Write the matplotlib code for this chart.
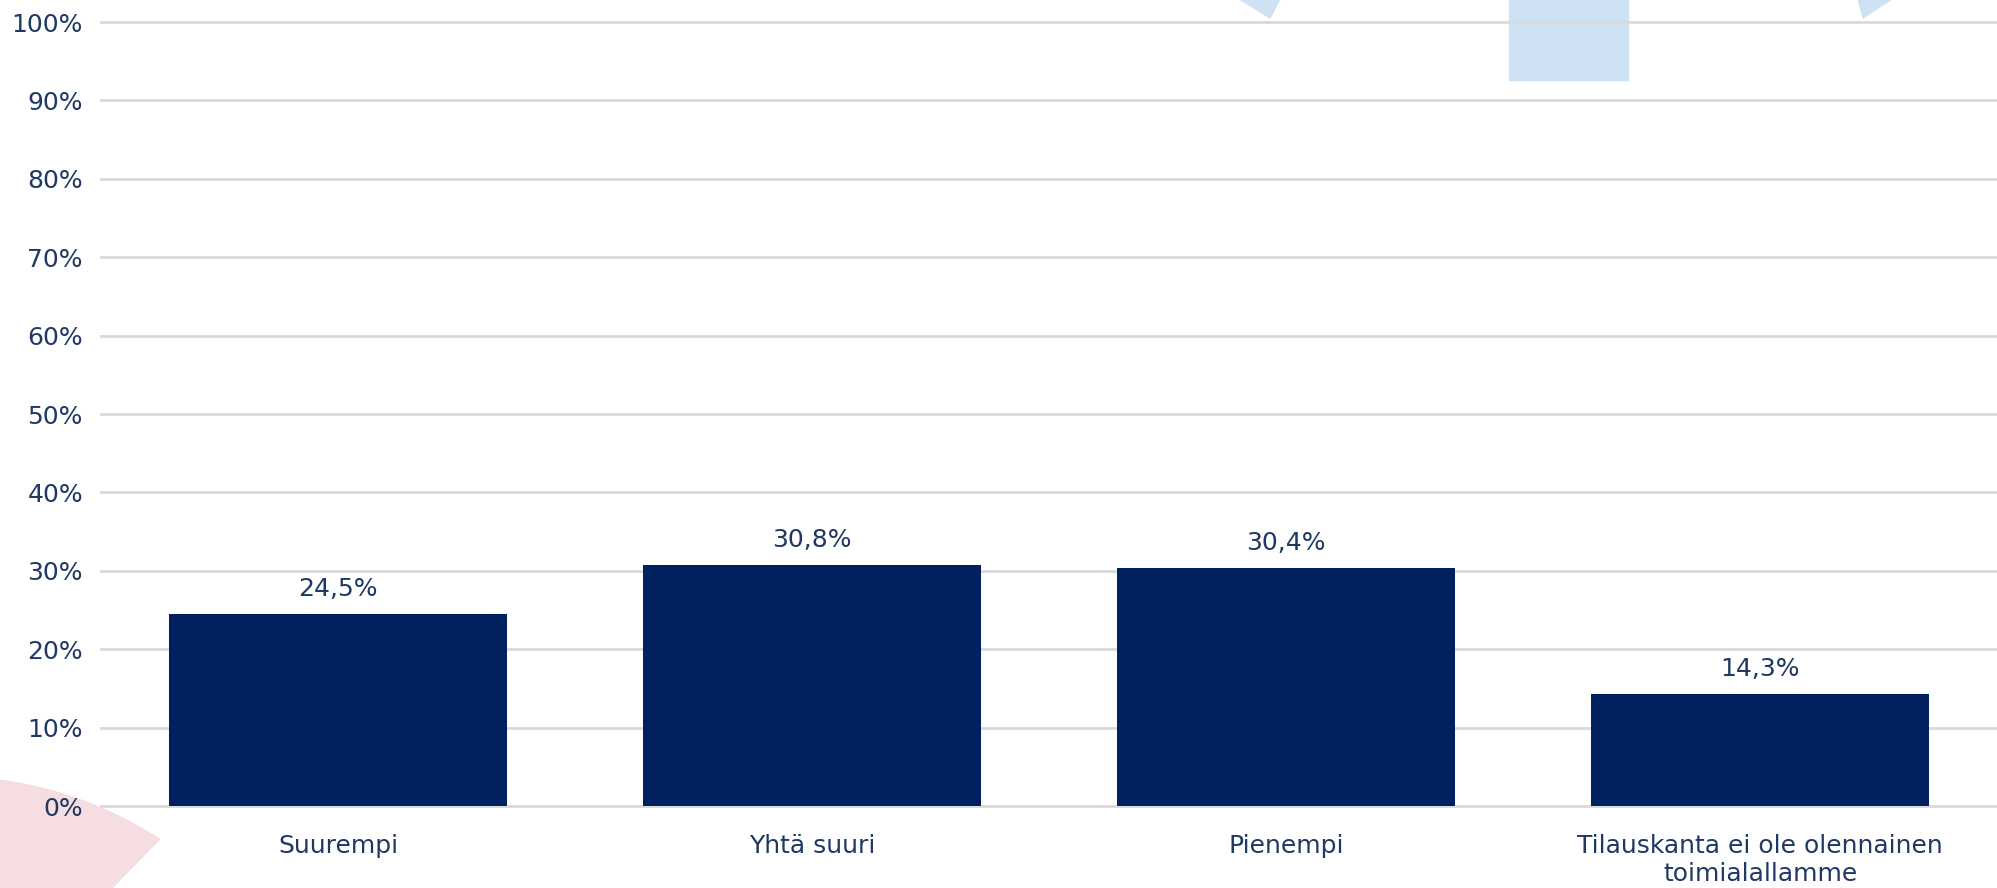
import numpy as np
import matplotlib.pyplot as plt
from matplotlib.patches import Polygon, Rectangle

categories = ["Suurempi", "Yhtä suuri", "Pienempi", "Tilauskanta ei ole olennainen\ntoimialallamme"]
values = [24.5, 30.8, 30.4, 14.3]
yticks = [0, 10, 20, 30, 40, 50, 60, 70, 80, 90, 100]

W, H = 1997, 888
txt = "#1F3864"
plt.rcParams["font.family"] = ["DejaVu Sans"]

fig = plt.figure(figsize=(W / 100, H / 100), dpi=100)

# background decorations of the slide (pixel coords -> figure fraction)
def fpts(pts):
    return [(x / W, 1 - y / H) for x, y in pts]

blue = "#CFE2F3"
fig.patches.append(Polygon(fpts([(1233, -5), (1282, -5), (1270, 18)]), closed=True,
                           transform=fig.transFigure, color=blue, zorder=-1))
fig.patches.append(Polygon(fpts([(1857, -5), (1898, -5), (1863, 18)]), closed=True,
                           transform=fig.transFigure, color=blue, zorder=-1))
fig.patches.append(Rectangle((1509 / W, 1 - 80 / H), 119 / W, 80 / H,
                             transform=fig.transFigure, color=blue, zorder=-1))
cx, cy, r = -50, 1160, 383
ang = np.linspace(np.arctan2(780 - cy, 0 - cx), np.arctan2(840 - cy, 159 - cx), 60)
arc = [(cx + r * np.cos(a), cy + r * np.sin(a)) for a in ang]
pink = arc + [(112, 888), (60, 940), (-10, 940), (-10, 780)]
fig.patches.append(Polygon(fpts(pink), closed=True, transform=fig.transFigure,
                           color="#F6DDE1", zorder=-1))

ax = fig.add_axes([101 / W, 1 - 806 / H, 1 - 101 / W, (806 - 22) / H])
ax.set_facecolor("none")

x = np.arange(len(categories))
bars = ax.bar(x, values, width=0.715, color="#002060", zorder=3)
for b, v in zip(bars, values):
    ax.annotate(f"{v:.1f}%".replace(".", ","), (b.get_x() + b.get_width() / 2, v),
                xytext=(0, 13), textcoords="offset pixels", ha="center", va="bottom",
                fontsize=18, color=txt)

ax.set_xlim(-0.5, len(categories) - 0.5)
ax.set_ylim(0, 100)
ax.set_yticks(yticks)
ax.set_yticklabels([f"{t}%" for t in yticks])
ax.set_xticks(x)
ax.set_xticklabels(categories)
ax.grid(axis="y", color="#D9D9D9", linewidth=2, zorder=0)
for gl in ax.get_ygridlines():
    gl.set_clip_on(False)
ax.set_axisbelow(True)
for s in ax.spines.values():
    s.set_visible(False)
ax.tick_params(axis="both", length=0, labelsize=18, labelcolor=txt)
ax.tick_params(axis="y", pad=13)
ax.tick_params(axis="x", pad=20)

fig.savefig("out.png", dpi=100)
